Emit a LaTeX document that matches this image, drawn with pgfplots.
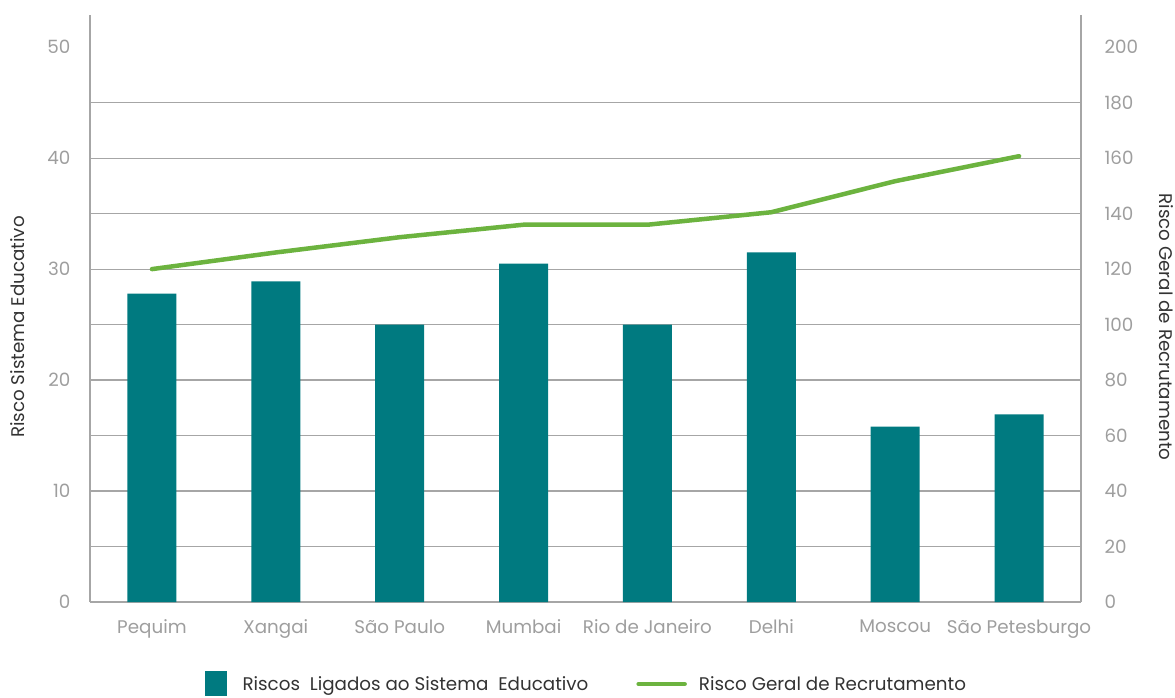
\documentclass[border=0pt]{standalone}
\usepackage{pgfplots}
\pgfplotsset{compat=1.18}
\usepackage{fontspec}
\setmainfont{Poppins}

\definecolor{barteal}{HTML}{007A80}
\definecolor{linegreen}{HTML}{6CB33F}
\definecolor{gridgray}{HTML}{A6A6A6}
\definecolor{ticktext}{HTML}{9E9E9E}
\definecolor{labeltext}{HTML}{333333}

\pgfplotsset{
  base/.style={
    scale only axis,
    width=991pt, height=587pt,
    at={(0,0)}, anchor=south west,
    xmin=-0.5, xmax=7.5,
    axis line style={-, draw=gridgray, line width=1.2pt},
    tick label style={font=\fontsize{18.3}{21}\selectfont, text=ticktext},
    label style={font=\fontsize{18.3}{21}\selectfont, text=labeltext},
    /pgf/number format/assume math mode=true,
  },
}

\begin{document}
\begin{tikzpicture}[x=1pt,y=1pt]
\useasboundingbox (-90,-95) rectangle (1085,602);

\begin{axis}[
  base,
  axis x line*=bottom, axis y line*=left,
  ymin=0, ymax=52.9,
  xtick={0,...,7},
  xticklabels={Pequim, Xangai, São Paulo, Mumbai, Rio de Janeiro, Delhi, Moscou, São Petesburgo},
  x tick style={draw=none},
  major tick length=0pt,
  ytick={0,10,...,50},
  y tick style={draw=none},
  yticklabel style={xshift=-16pt},
  xticklabel style={yshift=-14pt},
  extra y ticks={5,10,...,45},
  extra y tick labels={},
  extra y tick style={grid=major, major grid style={draw=gridgray, line width=1.2pt},
    tick style={draw=gridgray, line width=1.2pt}, major tick length=12pt, tick align=outside},
  ylabel={Risco Sistema Educativo},
  ylabel style={at={(axis description cs:-0.0727,0.4685)}, anchor=center},
]
\addplot[ybar, bar width=49pt, fill=barteal, draw=none] coordinates {
  (0,27.8) (1,28.9) (2,25.0) (3,30.5) (4,25.0) (5,31.5) (6,15.8) (7,16.9)
};
\end{axis}

\begin{axis}[
  base,
  axis x line=none, axis y line*=right,
  ymin=0, ymax=211.6,
  ytick={0,20,...,200},
  y tick style={draw=none},
  major tick length=0pt,
  yticklabel style={xshift=20pt},
  extra y ticks={20,40,...,180},
  extra y tick labels={},
  extra y tick style={tick style={draw=gridgray, line width=1.2pt}, major tick length=12pt, tick align=outside},
  ylabel={Risco Geral de Recrutamento},
  ylabel style={at={(axis description cs:1.0865,0.4685)}, anchor=center, rotate=180},
  legend style={at={(axis description cs:0.116,-0.138)}, anchor=west, draw=none, fill=none,
    font=\fontsize{18.3}{21}\selectfont, text=labeltext, inner sep=0pt,
    /tikz/every even column/.append style={column sep=46pt}},
  legend columns=2,
]
\addlegendimage{legend image code/.code={\fill[barteal] (0pt,-11pt) rectangle (21pt,13pt); \path (35pt,0pt);}}
\addlegendentry{Riscos\ \ Ligados ao Sistema\ \ Educativo}
\addplot[linegreen, line width=4.5pt, line join=round, line cap=round,
  legend image code/.code={\draw[linegreen, line width=4.5pt, line cap=round] (2pt,0pt) -- (48pt,0pt); \path (58pt,0pt);}]
  coordinates {
  (0,120) (1,126) (2,131.5) (3,136) (4,136) (5,140.5) (6,151.7) (7,160.7)
};
\addlegendentry{Risco Geral de Recrutamento}
\end{axis}
\end{tikzpicture}
\end{document}
